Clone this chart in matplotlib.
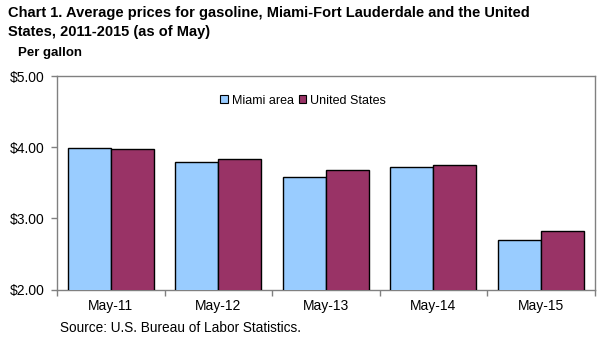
import matplotlib
matplotlib.use("Agg")
import matplotlib.pyplot as plt
import numpy as np
from matplotlib.patches import Patch

plt.rcParams['font.family'] = ['Liberation Sans', 'DejaVu Sans']

categories = ["May-11", "May-12", "May-13", "May-14", "May-15"]
miami = [3.99, 3.79, 3.59, 3.73, 2.69]
us = [3.97, 3.83, 3.68, 3.75, 2.83]
series_names = ["Miami area", "United States"]
colors = ["#99CCFF", "#993366"]
yticks = [2.0, 3.0, 4.0, 5.0]

fig = plt.figure(figsize=(6.01, 3.43), dpi=100)
W, H = 601, 343
left, right, top, bottom = 57, 594.5, 76.3, 289.5
ax = fig.add_axes([left / W, 1 - bottom / H, (right - left) / W, (bottom - top) / H])

x = np.arange(len(categories))
w = 0.4
ax.bar(x - w / 2, miami, w, color=colors[0], edgecolor="black", linewidth=1.0, zorder=3)
ax.bar(x + w / 2, us, w, color=colors[1], edgecolor="black", linewidth=1.0, zorder=3)

ax.set_xlim(-0.5, len(categories) - 0.5)
ax.set_ylim(2, 5)
ax.set_yticks(yticks)
ax.set_yticklabels([f"${v:.2f}" for v in yticks], fontsize=10)
ax.set_xticks(x)
ax.set_xticklabels(categories, fontsize=10)
ax.tick_params(axis='x', length=0, pad=7)
ax.set_xticks(np.arange(-0.5, len(categories), 1.0), minor=True)
ax.tick_params(axis='x', which='minor', length=4, color="#808080", width=1)
ax.tick_params(axis='y', length=4, color="#808080", width=1, pad=5)
for s in ax.spines.values():
    s.set_color("#808080")
    s.set_linewidth(1.0)

handles = [Patch(facecolor=c, edgecolor="black", linewidth=0.8) for c in colors]
ax.legend(handles, series_names, loc="center", bbox_to_anchor=((303 - left) / (right - left), (bottom - 100.5) / (bottom - top)),
          ncol=2, frameon=False, fontsize=9, handlelength=0.6, handleheight=0.6,
          handletextpad=0.3, columnspacing=0.4, borderpad=0)

fig.text(8 / W, 1 - 6 / H, "Chart 1. Average prices for gasoline, Miami-Fort Lauderdale and the United\nStates, 2011-2015 (as of May)",
         fontsize=10.5, fontweight="bold", va="top", ha="left", linespacing=1.45)
fig.text(18 / W, 1 - 53 / H, "Per gallon", fontsize=9.5, fontweight="bold", va="center", ha="left")
fig.text(60 / W, 1 - 328 / H, "Source: U.S. Bureau of Labor Statistics.", fontsize=9.8, va="center", ha="left")

fig.savefig("out.png", dpi=100)
